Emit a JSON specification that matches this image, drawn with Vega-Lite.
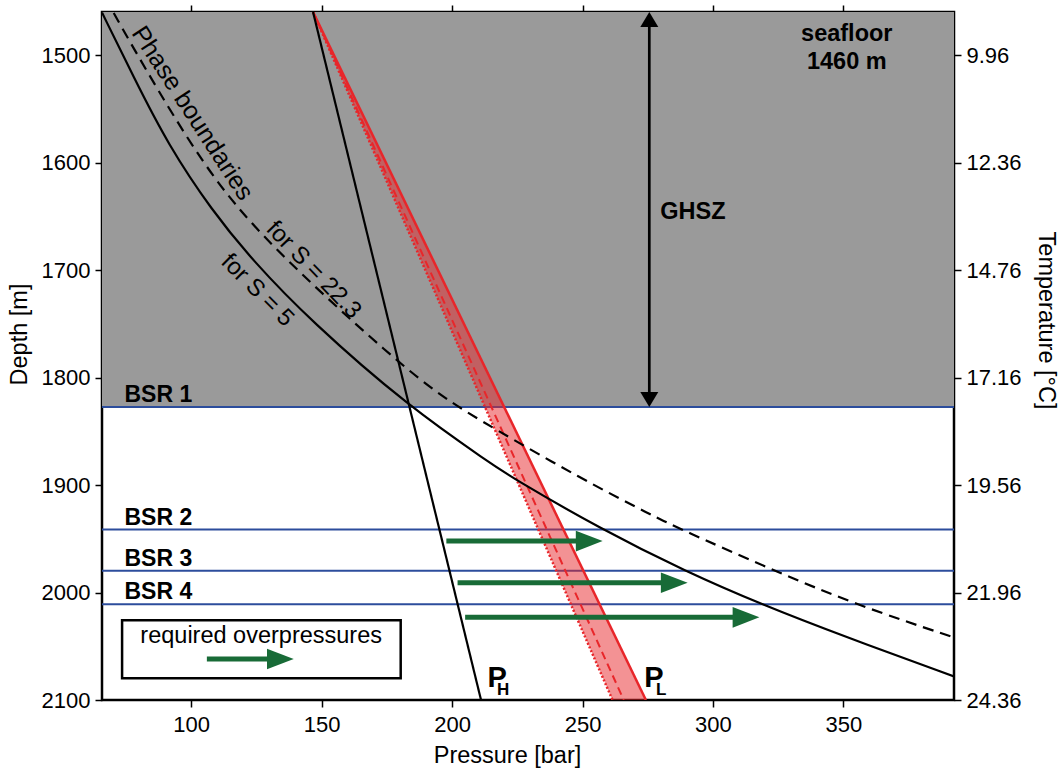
{
  "$schema": "https://vega.github.io/schema/vega-lite/v6.json",
  "width": 852,
  "height": 688,
  "autosize": {"type": "none"},
  "padding": {"left": 102, "top": 12, "right": 105, "bottom": 71},
  "background": "white",
  "config": {
    "font": "Liberation Sans",
    "view": {"stroke": "#000", "strokeWidth": 2.5},
    "axis": {
      "grid": false, "domain": false, "tickColor": "#000", "tickWidth": 1.5, "tickSize": 7,
      "labelFont": "Liberation Sans", "labelFontSize": 22, "labelColor": "#000", "labelPadding": 5,
      "titleFont": "Liberation Sans", "titleFontSize": 23.5, "titleFontWeight": "normal", "titleColor": "#000"
    },
    "text": {"font": "Liberation Sans", "color": "#000"}
  },
  "datasets": {
    "curves": [
      {"curve": "S5", "P": 65.8, "D": 1460.5},
      {"curve": "S5", "P": 78, "D": 1521},
      {"curve": "S5", "P": 91, "D": 1583},
      {"curve": "S5", "P": 108, "D": 1645},
      {"curve": "S5", "P": 123.5, "D": 1691},
      {"curve": "S5", "P": 145.6, "D": 1747},
      {"curve": "S5", "P": 183.5, "D": 1827.4},
      {"curve": "S5", "P": 214.9, "D": 1880},
      {"curve": "S5", "P": 222.5, "D": 1892.5},
      {"curve": "S5", "P": 257, "D": 1941},
      {"curve": "S5", "P": 290, "D": 1981},
      {"curve": "S5", "P": 318.5, "D": 2011},
      {"curve": "S5", "P": 350.4, "D": 2041},
      {"curve": "S5", "P": 392.4, "D": 2078},
      {"curve": "S22", "P": 70.3, "D": 1461},
      {"curve": "S22", "P": 80.5, "D": 1505},
      {"curve": "S22", "P": 104.8, "D": 1604},
      {"curve": "S22", "P": 128, "D": 1673},
      {"curve": "S22", "P": 179, "D": 1786},
      {"curve": "S22", "P": 198, "D": 1821},
      {"curve": "S22", "P": 215, "D": 1846},
      {"curve": "S22", "P": 249.4, "D": 1894},
      {"curve": "S22", "P": 276.4, "D": 1928},
      {"curve": "S22", "P": 287.8, "D": 1941.4},
      {"curve": "S22", "P": 321, "D": 1977},
      {"curve": "S22", "P": 354.3, "D": 2011},
      {"curve": "S22", "P": 392.6, "D": 2042},
      {"curve": "PH", "P": 146.7, "D": 1460},
      {"curve": "PH", "P": 211.1, "D": 2100},
      {"curve": "PL", "P": 146.7, "D": 1460},
      {"curve": "PL", "P": 274.3, "D": 2100},
      {"curve": "PLdash", "P": 146.7, "D": 1460},
      {"curve": "PLdash", "P": 265.8, "D": 2100},
      {"curve": "PLdot", "P": 146.7, "D": 1460},
      {"curve": "PLdot", "P": 261.5, "D": 2100}
    ],
    "bsr": [
      {"label": "BSR 1", "D": 1827.4},
      {"label": "BSR 2", "D": 1941.4},
      {"label": "BSR 3", "D": 1979.8},
      {"label": "BSR 4", "D": 2011}
    ],
    "arrows": [
      {"D": 1952.2, "P": 197.8, "P2": 250.7, "tip": 257.7},
      {"D": 1991, "P": 202.1, "P2": 283.3, "tip": 290.3},
      {"D": 2023.1, "P": 205, "P2": 310.8, "tip": 317.8},
      {"D": 2061.9, "P": 106, "P2": 132.3, "tip": 139.3}
    ]
  },
  "layer": [
    {
      "layer": [
        {
          "data": {"values": [{"D": 1460, "D2": 1827.4}]},
          "mark": {"type": "rect", "color": "#9a9a9a"},
          "encoding": {
            "y": {
              "field": "D", "type": "quantitative",
              "scale": {"domain": [1460, 2100], "nice": false, "zero": false, "reverse": true},
              "axis": {
                "orient": "right", "values": [1500, 1600, 1700, 1800, 1900, 2000, 2100],
                "labelExpr": "datum.value == 1500 ? '9.96' : datum.value == 1600 ? '12.36' : datum.value == 1700 ? '14.76' : datum.value == 1800 ? '17.16' : datum.value == 1900 ? '19.56' : datum.value == 2000 ? '21.96' : '24.36'",
                "title": "Temperature [°C]", "titlePadding": 12, "titleY": 308
              }
            },
            "y2": {"field": "D2"}
          }
        },
        {
          "data": {"values": [{"P": 73.5, "P2": 180.3, "D": 2025.7, "D2": 2079.8}]},
          "mark": {"type": "rect", "fill": "white", "stroke": "#000", "strokeWidth": 2.5},
          "encoding": {
            "x": {
              "field": "P", "type": "quantitative",
              "scale": {"domain": [65.8, 392.4], "nice": false, "zero": false},
              "axis": {"orient": "top", "values": [100, 150, 200, 250, 300, 350], "labels": false, "title": null}
            },
            "x2": {"field": "P2"},
            "y": {"field": "D", "type": "quantitative"},
            "y2": {"field": "D2"}
          }
        }
      ]
    },
    {
      "layer": [
        {
          "data": {"name": "bsr"},
          "mark": {"type": "rule", "color": "#2c4d9c", "strokeWidth": 2},
          "encoding": {
            "y": {
              "field": "D", "type": "quantitative",
              "scale": {"domain": [1460, 2100], "nice": false, "zero": false, "reverse": true},
              "axis": {"orient": "left", "values": [1500, 1600, 1700, 1800, 1900, 2000, 2100], "format": "d", "title": "Depth [m]", "titlePadding": 10, "titleY": 322}
            }
          }
        },
        {
          "data": {"values": [{"D": 1460, "L": 146.7, "R": 146.7}, {"D": 2100, "L": 261.5, "R": 274.3}]},
          "mark": {"type": "area", "orient": "horizontal", "color": "#e8262a", "opacity": 0.5},
          "encoding": {
            "x": {
              "field": "L", "type": "quantitative",
              "scale": {"domain": [65.8, 392.4], "nice": false, "zero": false},
              "axis": {"orient": "bottom", "values": [100, 150, 200, 250, 300, 350], "format": "d", "title": "Pressure [bar]", "labelPadding": 7, "titlePadding": 8, "titleX": 405}
            },
            "x2": {"field": "R"},
            "y": {"field": "D", "type": "quantitative"}
          }
        },
        {
          "data": {"name": "curves"},
          "transform": [{"filter": "datum.curve == 'PLdot'"}],
          "mark": {"type": "line", "color": "#e8262a", "strokeWidth": 2.5, "strokeDash": [2, 2], "clip": true},
          "encoding": {"x": {"field": "P", "type": "quantitative"}, "y": {"field": "D", "type": "quantitative"}, "order": {"field": "D"}}
        },
        {
          "data": {"name": "curves"},
          "transform": [{"filter": "datum.curve == 'PLdash'"}],
          "mark": {"type": "line", "color": "#e8262a", "strokeWidth": 2, "strokeDash": [8, 5], "clip": true},
          "encoding": {"x": {"field": "P", "type": "quantitative"}, "y": {"field": "D", "type": "quantitative"}, "order": {"field": "D"}}
        },
        {
          "data": {"name": "curves"},
          "transform": [{"filter": "datum.curve == 'PL'"}],
          "mark": {"type": "line", "color": "#e8262a", "strokeWidth": 2.5, "clip": true},
          "encoding": {"x": {"field": "P", "type": "quantitative"}, "y": {"field": "D", "type": "quantitative"}, "order": {"field": "D"}}
        },
        {
          "data": {"name": "curves"},
          "transform": [{"filter": "datum.curve == 'PH'"}],
          "mark": {"type": "line", "color": "#000", "strokeWidth": 2.2, "clip": true},
          "encoding": {"x": {"field": "P", "type": "quantitative"}, "y": {"field": "D", "type": "quantitative"}, "order": {"field": "D"}}
        },
        {
          "data": {"name": "curves"},
          "transform": [{"filter": "datum.curve == 'S5'"}],
          "mark": {"type": "line", "color": "#000", "strokeWidth": 2.2, "interpolate": "basis", "clip": true},
          "encoding": {"x": {"field": "P", "type": "quantitative"}, "y": {"field": "D", "type": "quantitative"}, "order": {"field": "D"}}
        },
        {
          "data": {"name": "curves"},
          "transform": [{"filter": "datum.curve == 'S22'"}],
          "mark": {"type": "line", "color": "#000", "strokeWidth": 2.2, "strokeDash": [11, 7], "interpolate": "basis", "clip": true},
          "encoding": {"x": {"field": "P", "type": "quantitative"}, "y": {"field": "D", "type": "quantitative"}, "order": {"field": "D"}}
        },
        {
          "data": {"name": "arrows"},
          "mark": {"type": "rule", "color": "#186b37", "strokeWidth": 5},
          "encoding": {"x": {"field": "P", "type": "quantitative"}, "x2": {"field": "P2"}, "y": {"field": "D", "type": "quantitative"}}
        },
        {
          "data": {"name": "arrows"},
          "mark": {"type": "point", "shape": "M-2.6,-1L0,0L-2.6,1Z", "size": 424, "filled": true, "opacity": 1, "color": "#186b37"},
          "encoding": {"x": {"field": "tip", "type": "quantitative"}, "y": {"field": "D", "type": "quantitative"}}
        },
        {
          "data": {"values": [{"P": 275.6, "D": 1466, "D2": 1821}]},
          "mark": {"type": "rule", "color": "#000", "strokeWidth": 2.7},
          "encoding": {"x": {"field": "P", "type": "quantitative"}, "y": {"field": "D", "type": "quantitative"}, "y2": {"field": "D2"}}
        },
        {
          "data": {"values": [{"P": 275.6, "D": 1460, "dir": "up"}, {"P": 275.6, "D": 1827.4, "dir": "down"}]},
          "mark": {"type": "point", "size": 324, "filled": true, "opacity": 1, "color": "#000"},
          "encoding": {
            "x": {"field": "P", "type": "quantitative"},
            "y": {"field": "D", "type": "quantitative"},
            "shape": {"field": "dir", "type": "nominal", "scale": {"domain": ["up", "down"], "range": ["M-1,1.667L0,0L1,1.667Z", "M-1,-1.667L0,0L1,-1.667Z"]}, "legend": null}
          }
        },
        {
          "data": {"name": "bsr"},
          "mark": {"type": "text", "align": "left", "baseline": "alphabetic", "dy": -5, "fontSize": 23, "fontWeight": "bold"},
          "encoding": {"x": {"datum": 74.4, "type": "quantitative"}, "y": {"field": "D", "type": "quantitative"}, "text": {"field": "label"}}
        },
        {
          "data": {"values": [{"P": 100.5, "D": 1554, "t": "Phase boundaries"}]},
          "mark": {"type": "text", "align": "center", "baseline": "middle", "fontSize": 25, "angle": 57},
          "encoding": {"x": {"field": "P", "type": "quantitative"}, "y": {"field": "D", "type": "quantitative"}, "text": {"field": "t"}}
        },
        {
          "data": {"values": [{"P": 146.9, "D": 1700, "t": "for S = 22.3"}]},
          "mark": {"type": "text", "align": "center", "baseline": "middle", "fontSize": 24, "angle": 46},
          "encoding": {"x": {"field": "P", "type": "quantitative"}, "y": {"field": "D", "type": "quantitative"}, "text": {"field": "t"}}
        },
        {
          "data": {"values": [{"P": 125.3, "D": 1719, "t": "for S = 5"}]},
          "mark": {"type": "text", "align": "center", "baseline": "middle", "fontSize": 24, "angle": 45},
          "encoding": {"x": {"field": "P", "type": "quantitative"}, "y": {"field": "D", "type": "quantitative"}, "text": {"field": "t"}}
        },
        {
          "data": {"values": [{"P": 351.3, "D": 1486.6, "t": "seafloor"}, {"P": 351.3, "D": 1512.9, "t": "1460 m"}]},
          "mark": {"type": "text", "align": "center", "baseline": "alphabetic", "fontSize": 23.5, "fontWeight": "bold"},
          "encoding": {"x": {"field": "P", "type": "quantitative"}, "y": {"field": "D", "type": "quantitative"}, "text": {"field": "t"}}
        },
        {
          "data": {"values": [{"P": 279.8, "D": 1652.3, "t": "GHSZ"}]},
          "mark": {"type": "text", "align": "left", "baseline": "alphabetic", "fontSize": 23.5, "fontWeight": "bold"},
          "encoding": {"x": {"field": "P", "type": "quantitative"}, "y": {"field": "D", "type": "quantitative"}, "text": {"field": "t"}}
        },
        {
          "data": {"values": [{"P": 80.5, "D": 2046.7, "t": "required overpressures"}]},
          "mark": {"type": "text", "align": "left", "baseline": "alphabetic", "fontSize": 23.5},
          "encoding": {"x": {"field": "P", "type": "quantitative"}, "y": {"field": "D", "type": "quantitative"}, "text": {"field": "t"}}
        },
        {
          "data": {"values": [{"P": 213.6, "D": 2087.6, "t": "P"}, {"P": 273.7, "D": 2087.6, "t": "P"}]},
          "mark": {"type": "text", "align": "left", "baseline": "alphabetic", "fontSize": 29, "fontWeight": "bold"},
          "encoding": {"x": {"field": "P", "type": "quantitative"}, "y": {"field": "D", "type": "quantitative"}, "text": {"field": "t"}}
        },
        {
          "data": {"values": [{"P": 217.2, "D": 2095.4, "t": "H"}, {"P": 278.2, "D": 2095.4, "t": "L"}]},
          "mark": {"type": "text", "align": "left", "baseline": "alphabetic", "fontSize": 17, "fontWeight": "bold"},
          "encoding": {"x": {"field": "P", "type": "quantitative"}, "y": {"field": "D", "type": "quantitative"}, "text": {"field": "t"}}
        }
      ]
    }
  ],
  "resolve": {"axis": {"x": "independent", "y": "independent"}}
}
